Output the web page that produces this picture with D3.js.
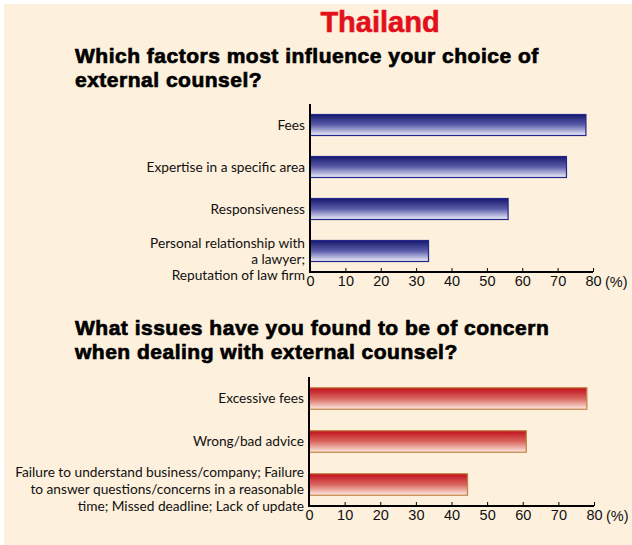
<!DOCTYPE html>
<html><head><meta charset="utf-8">
<script src="https://cdn.jsdelivr.net/npm/d3@7"></script>
<style>body{margin:0;background:#fff}svg{display:block}</style>
</head><body>
<script>
const title = "Thailand";
const q1Lines = ["Which factors most influence your choice of", "external counsel?"];
const q1Categories = [["Fees"], ["Expertise in a specific area"], ["Responsiveness"], ["Personal relationship with", "a lawyer;", "Reputation of law firm"]];
const q1Values = [78, 72.5, 56, 33.5];
const q2Lines = ["What issues have you found to be of concern", "when dealing with external counsel?"];
const q2Categories = [["Excessive fees"], ["Wrong/bad advice"], ["Failure to understand business/company; Failure", "to answer questions/concerns in a reasonable", "time; Missed deadline; Lack of update"]];
const q2Values = [78, 61, 44.5];
const tickValues = [0, 10, 20, 30, 40, 50, 60, 70, 80];
const unitLabel = "(%)";

const W = 632, H = 545;
const svg = d3.select("body").append("svg").attr("width", W).attr("height", H);
svg.append("rect").attr("x", 4).attr("y", 4).attr("width", W - 4).attr("height", H - 4).attr("fill", "#fdf0dc");

const defs = svg.append("defs");
const gb = defs.append("linearGradient").attr("id", "gBlue").attr("x1", 0).attr("y1", 0).attr("x2", 0).attr("y2", 1);
gb.append("stop").attr("offset", "0").attr("stop-color", "#16186e");
gb.append("stop").attr("offset", "0.5").attr("stop-color", "#5c5eaa");
gb.append("stop").attr("offset", "1").attr("stop-color", "#f0f0fc");
const gr = defs.append("linearGradient").attr("id", "gRed").attr("x1", 0).attr("y1", 0).attr("x2", 0).attr("y2", 1);
gr.append("stop").attr("offset", "0").attr("stop-color", "#c00d1a");
gr.append("stop").attr("offset", "0.5").attr("stop-color", "#d9665e");
gr.append("stop").attr("offset", "1").attr("stop-color", "#fcebe2");

svg.append("text").attr("x", 380).attr("y", 32).attr("text-anchor", "middle")
  .attr("font-family", "Liberation Sans, Arial, sans-serif").attr("font-weight", "bold")
  .attr("font-size", 29).attr("fill", "#e3101c").attr("stroke", "#e3101c").attr("stroke-width", 0.6).text(title);

function question(lines, x, y0, lh) {
  lines.forEach((t, i) => {
    svg.append("text").attr("x", x).attr("y", y0 + i * lh)
      .attr("font-family", "Liberation Sans, Arial, sans-serif").attr("font-weight", "bold")
      .attr("font-size", 21).attr("letter-spacing", 0.5).attr("fill", "#000").attr("stroke", "#000").attr("stroke-width", 0.7)
      .text(t);
  });
}
question(q1Lines, 75, 63, 24);
question(q2Lines, 75, 335, 23.5);

function chart(cats, vals, opt) {
  const x = d3.scaleLinear().domain([0, 80]).range([opt.x0, opt.x1]);
  const y = d3.scaleBand().domain(d3.range(cats.length)).range([opt.yTop, opt.yBot]).paddingInner(0.5).paddingOuter(0.25);
  const g = svg.append("g");
  g.selectAll("rect.bar").data(vals).join("rect").attr("class", "bar")
    .attr("x", x(0)).attr("y", (d, i) => y(i)).attr("width", d => x(d) - x(0)).attr("height", y.bandwidth())
    .attr("fill", opt.fill).attr("stroke", opt.stroke).attr("stroke-width", 1.2);
  cats.forEach((lines, i) => {
    const c = y(i) + y.bandwidth() / 2;
    const first = lines.length === 1 ? c + 4.5 : c + opt.multiOffset;
    const t = g.append("text").attr("text-anchor", "end").attr("font-family", "Lato, 'Open Sans', sans-serif")
      .attr("font-size", 13.7).attr("fill", "#111");
    lines.forEach((l, k) => t.append("tspan").attr("x", opt.x0 - 5).attr("y", first + k * opt.lh).text(l));
  });
  const ax = g.append("g").attr("transform", `translate(0,${opt.yBot})`)
    .call(d3.axisBottom(x).tickValues(tickValues).tickSize(-4).tickPadding(6).tickFormat(d3.format("d")));
  ax.select(".domain").remove();
  ax.selectAll(".tick line").attr("stroke", "#000").attr("stroke-width", 1);
  ax.selectAll(".tick text").attr("font-family", "'Liberation Sans Narrow', 'Arial Narrow', sans-serif").attr("font-size", 14.5).attr("fill", "#111").attr("dy", "0.71em").attr("y", 4);
  g.append("line").attr("x1", opt.x0 - 1).attr("x2", opt.x1).attr("y1", opt.yBot).attr("y2", opt.yBot).attr("stroke", "#000").attr("stroke-width", 2);
  g.append("line").attr("x1", opt.x0).attr("x2", opt.x0).attr("y1", opt.yTop).attr("y2", opt.yBot + 1).attr("stroke", "#000").attr("stroke-width", 2);
  g.append("text").attr("x", opt.x1 + 12).attr("y", opt.yBot + 15).attr("font-family", "'Liberation Sans Narrow', 'Arial Narrow', sans-serif")
    .attr("font-size", 14.5).attr("fill", "#111").text(unitLabel);
}
chart(q1Categories, q1Values, {x0: 310, x1: 593, yTop: 104, yBot: 272, fill: "url(#gBlue)", stroke: "#23268a", lh: 16, multiOffset: -3.5});
chart(q2Categories, q2Values, {x0: 309, x1: 594, yTop: 377, yBot: 506, fill: "url(#gRed)", stroke: "#c28445", lh: 17, multiOffset: -7.5});
</script>
</body></html>
